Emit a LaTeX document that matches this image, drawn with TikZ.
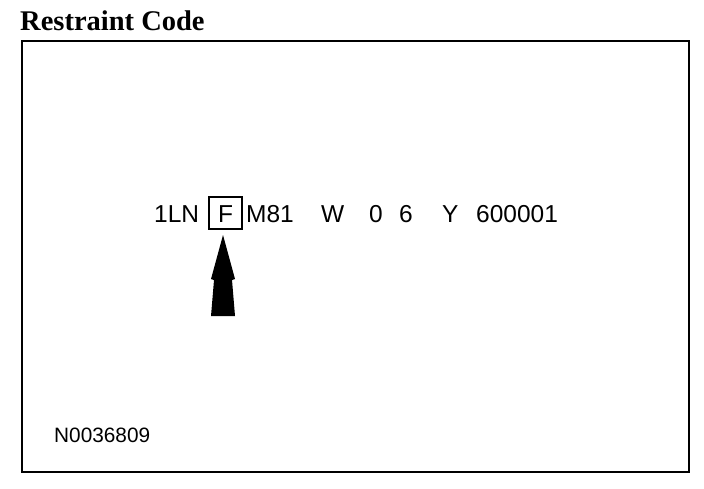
\documentclass[tikz,border=0pt]{standalone}
\usepackage{fontspec}
\setmainfont{Liberation Serif}
\newfontfamily\arial{Liberation Sans}
\begin{document}
\begin{tikzpicture}[x=1pt,y=-1pt,
  code/.style={anchor=base west,inner sep=0pt,font=\arial\fontsize{24.5}{27}\selectfont},
  frame/.style={line width=2pt},
  fbox/.style={draw,line width=1.5pt,minimum width=33pt,minimum height=32pt,inner sep=0pt}]
\useasboundingbox (0,0) rectangle (704,488);
\node[anchor=base west,inner sep=0pt,font=\bfseries\fontsize{28.5}{31}\selectfont] (title) at (20,30) {Restraint Code};
\draw[frame] (22,41) rectangle (689,472);
\node[code] (c1) at (154,222) {1LN};
\node[fbox] (f) at (225.5,213) {};
\node[code,anchor=base] (fl) at (225.5,222) {F};
\node[code] (c2) at (246,222) {M81};
\node[code] (c3) at (321,222) {W};
\node[code] (c4) at (369,222) {0};
\node[code] (c5) at (399,222) {6};
\node[code] (c6) at (442,222) {Y};
\node[code] (c7) at (476,222) {600001};
\fill (223,235) -- (235,279) -- (232,280) -- (235,316) -- (211,316) -- (214,280) -- (211,279) -- cycle;
\node[anchor=base west,inner sep=0pt,font=\arial\fontsize{20.8}{23}\selectfont] (id) at (54,442) {N0036809};
\end{tikzpicture}
\end{document}
